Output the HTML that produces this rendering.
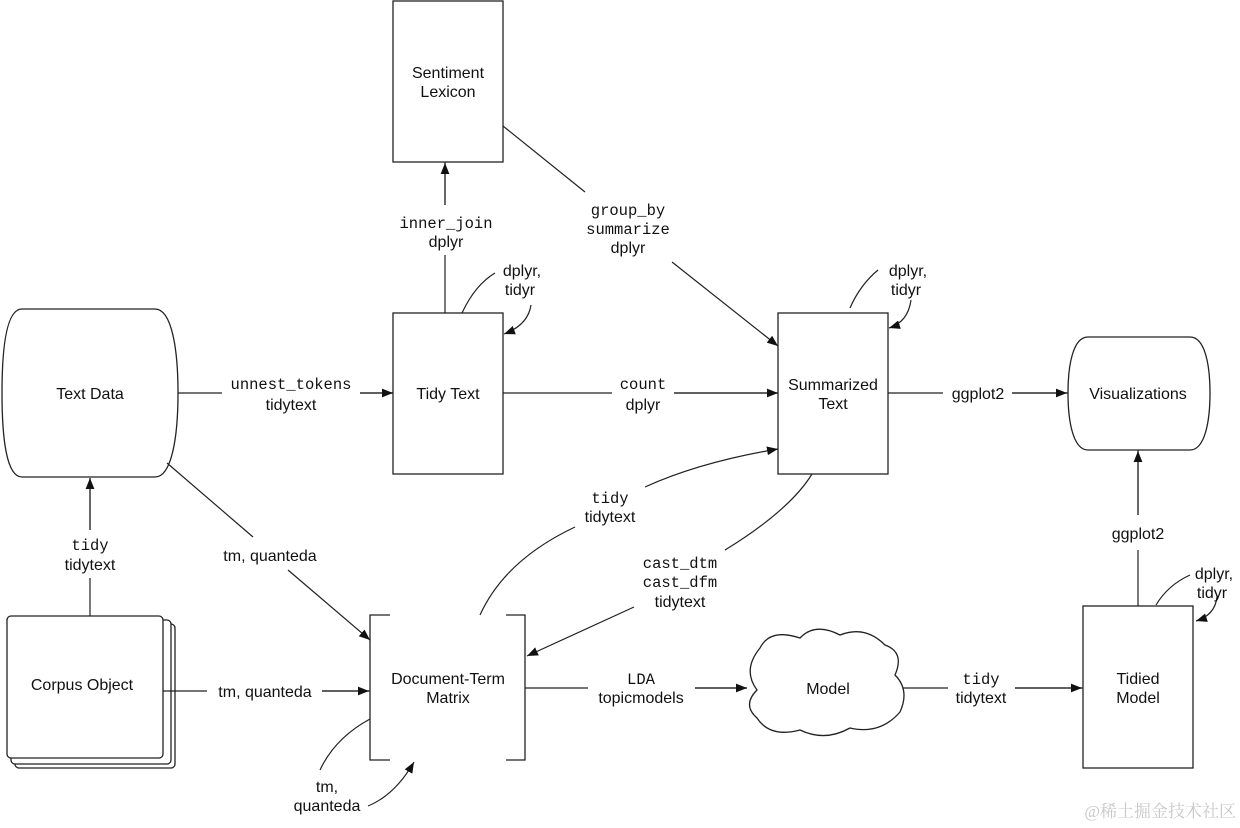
<!DOCTYPE html>
<html><head><meta charset="utf-8"><style>
html,body{margin:0;padding:0;background:#fff;}
svg{display:block;}
.s{font-family:"Liberation Sans",sans-serif;font-size:16px;fill:#111;text-anchor:middle;}
.m{font-family:"Liberation Mono",monospace;font-size:15.5px;fill:#111;text-anchor:middle;}
.w{font-family:"Liberation Serif","Noto Serif CJK SC",serif;font-size:17px;fill:#c8c8c8;text-anchor:end;}
</style></head><body>
<svg width="1240" height="828" viewBox="0 0 1240 828" xmlns="http://www.w3.org/2000/svg">
<defs><marker id="a" viewBox="0 0 10 10" refX="10" refY="5" markerWidth="11" markerHeight="11" markerUnits="userSpaceOnUse" orient="auto"><path d="M0,1 L10,5 L0,9 z" fill="#111"/></marker></defs>
<g fill="none" stroke="#222" stroke-width="1.3">
<rect x="393" y="1" width="110" height="161"/>
<rect x="393" y="313" width="110" height="161"/>
<rect x="778" y="313" width="110" height="161"/>
<rect x="1083" y="606" width="110" height="162"/>
<path d="M22,309 L155,309 C172,309 178,350 178,393 C178,436 172,477 155,477 L22,477 C6,477 2,436 2,393 C2,350 6,309 22,309 Z" fill="#fff"/>
<path d="M1088,337 L1190,337 C1205,337 1210,365 1210,393 C1210,421 1205,450 1190,450 L1088,450 C1073,450 1068,421 1068,393 C1068,365 1073,337 1088,337 Z"/>
<rect x="15" y="624" width="160" height="144" rx="4" fill="#fff"/>
<rect x="11" y="620" width="160" height="144" rx="4" fill="#fff"/>
<rect x="7" y="616" width="156" height="142" rx="4" fill="#fff"/>
<path d="M390,615 L370,615 L370,760 L390,760 M506,615 L525,615 L525,760 L506,760"/>
<path d="M760,648 Q770,628 800,638 Q815,622 840,635 Q865,625 885,645 Q905,652 895,675 Q910,690 900,712 Q880,735 850,728 Q825,742 800,730 Q770,738 757,718 Q742,705 757,690 Q742,670 760,648 Z"/>
</g>
<g fill="none" stroke="#222" stroke-width="1.2">
<path d="M178,393 L222,393 M360,393 L393,393" />
<path d="M360,393 L393,393" marker-end="url(#a)"/>
<path d="M445,313 L445,255 M445,205 L445,162" />
<path d="M445,205 L445,163" marker-end="url(#a)"/>
<path d="M462,313 Q475,285 495,273"/>
<path d="M531,305 Q528,325 504,334" marker-end="url(#a)"/>
<path d="M503,126 L585,192"/>
<path d="M672,262 L778,346" marker-end="url(#a)"/>
<path d="M503,393 L612,393 M674,393 L778,393"/>
<path d="M674,393 L778,393" marker-end="url(#a)"/>
<path d="M850,308 Q860,285 878,270"/>
<path d="M911,300 Q908,322 889,328" marker-end="url(#a)"/>
<path d="M888,393 L943,393 M1012,393 L1068,393"/>
<path d="M1012,393 L1067,393" marker-end="url(#a)"/>
<path d="M1138,606 L1138,550 M1138,515 L1138,450"/>
<path d="M1138,515 L1138,451" marker-end="url(#a)"/>
<path d="M1156,605 Q1168,585 1190,575"/>
<path d="M1217,597 Q1215,615 1196,621" marker-end="url(#a)"/>
<path d="M903,688 L948,688 M1015,688 L1083,688"/>
<path d="M1015,688 L1082,688" marker-end="url(#a)"/>
<path d="M525,688 L588,688 M695,688 L747,688"/>
<path d="M695,688 L747,688" marker-end="url(#a)"/>
<path d="M163,691 L207,691 M322,691 L370,691"/>
<path d="M322,691 L369,691" marker-end="url(#a)"/>
<path d="M167,463 L253,537"/>
<path d="M288,570 L370,640" marker-end="url(#a)"/>
<path d="M90,616 L90,578 M90,530 L90,478"/>
<path d="M90,530 L90,478" marker-end="url(#a)"/>
<path d="M480,615 Q505,560 575,527"/>
<path d="M645,487 Q700,462 778,449" marker-end="url(#a)"/>
<path d="M812,474 Q790,510 725,550"/>
<path d="M634,607 L527,656" marker-end="url(#a)"/>
<path d="M370,719 Q335,738 320,770"/>
<path d="M368,806 Q395,795 414,762" marker-end="url(#a)"/>
</g>
<text class="s" x="448" y="78">Sentiment</text><text class="s" x="448" y="97">Lexicon</text>
<text class="s" x="448" y="399">Tidy Text</text>
<text class="s" x="833" y="390">Summarized</text><text class="s" x="833" y="409">Text</text>
<text class="s" x="1138" y="399">Visualizations</text>
<text class="s" x="90" y="399">Text Data</text>
<text class="s" x="82" y="690">Corpus Object</text>
<text class="s" x="448" y="684">Document-Term</text><text class="s" x="448" y="703">Matrix</text>
<text class="s" x="828" y="694">Model</text>
<text class="s" x="1138" y="684">Tidied</text><text class="s" x="1138" y="703">Model</text>
<text class="m" x="291" y="389">unnest_tokens</text><text class="s" x="291" y="410">tidytext</text>
<text class="m" x="446" y="228">inner_join</text><text class="s" x="446" y="247">dplyr</text>
<text class="s" x="522" y="276">dplyr,</text><text class="s" x="520" y="295">tidyr</text>
<text class="m" x="628" y="215">group_by</text><text class="m" x="628" y="234">summarize</text><text class="s" x="628" y="253">dplyr</text>
<text class="m" x="643" y="389">count</text><text class="s" x="643" y="410">dplyr</text>
<text class="s" x="908" y="276">dplyr,</text><text class="s" x="906" y="295">tidyr</text>
<text class="s" x="978" y="399">ggplot2</text>
<text class="s" x="1138" y="539">ggplot2</text>
<text class="s" x="1214" y="579">dplyr,</text><text class="s" x="1212" y="598">tidyr</text>
<text class="m" x="981" y="684">tidy</text><text class="s" x="981" y="703">tidytext</text>
<text class="m" x="641" y="684">LDA</text><text class="s" x="641" y="703">topicmodels</text>
<text class="s" x="265" y="697">tm, quanteda</text>
<text class="s" x="270" y="561">tm, quanteda</text>
<text class="m" x="90" y="550">tidy</text><text class="s" x="90" y="570">tidytext</text>
<text class="m" x="610" y="503">tidy</text><text class="s" x="610" y="522">tidytext</text>
<text class="m" x="680" y="568">cast_dtm</text><text class="m" x="680" y="587">cast_dfm</text><text class="s" x="680" y="607">tidytext</text>
<text class="s" x="327" y="792">tm,</text><text class="s" x="327" y="811">quanteda</text>
<text class="w" x="1236" y="817">@稀土掘金技术社区</text>
</svg>
</body></html>
